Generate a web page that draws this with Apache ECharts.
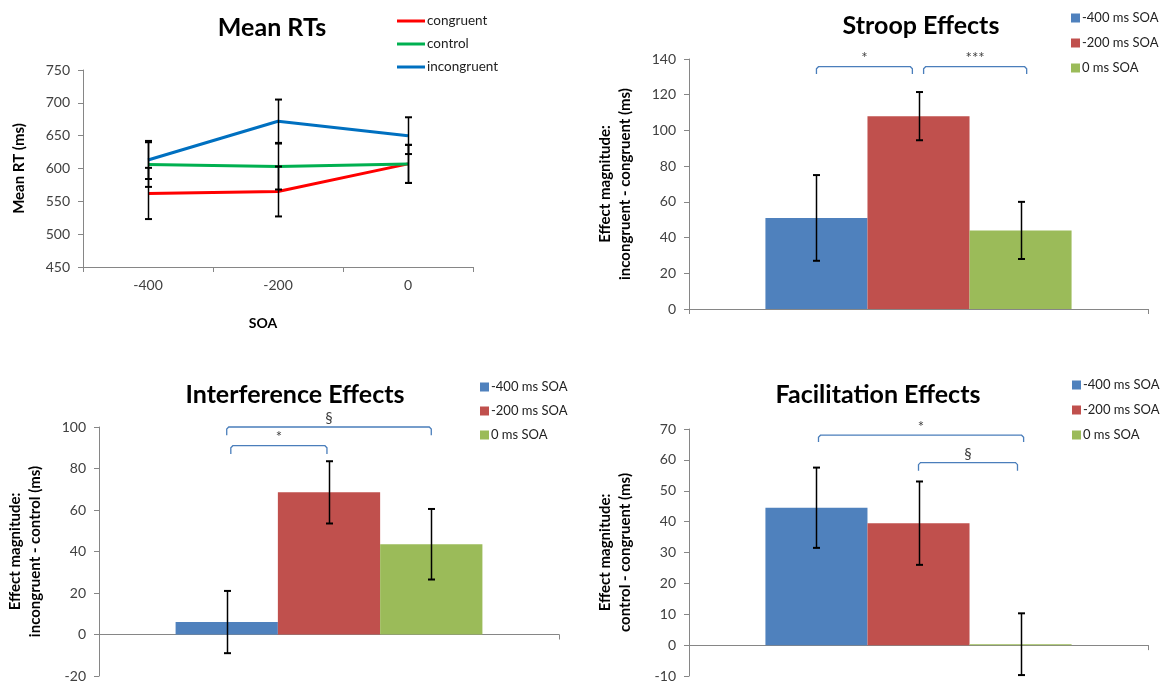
<!DOCTYPE html>
<html><head><meta charset="utf-8">
<script src="https://cdn.jsdelivr.net/npm/echarts@6/dist/echarts.min.js"></script>
<style>html,body{margin:0;padding:0;background:#fff}#c{width:1164px;height:683px}</style>
</head><body><div id="c"></div>
<script>
// ---- Mean RTs (line panel) ----
const soaCategories = ['-400', '-200', '0'];
const congruentRT = [562, 565, 607];
const controlRT = [606, 603, 607];
const incongruentRT = [613, 672, 650];
const congruentErr = [39, 38, 29];
const controlErr = [34, 35, 29];
const incongruentErr = [29, 33, 28];

// ---- Effect panels (bar panels) ----
const soaSeriesNames = ['-400 ms SOA', '-200 ms SOA', '0 ms SOA'];
const stroopValues = [51, 108, 44];
const stroopErr = [24, 13.5, 16];
const interferenceValues = [6, 68.5, 43.5];
const interferenceErr = [15, 15, 17];
const facilitationValues = [44.5, 39.5, 0.3];
const facilitationErr = [13, 13.5, 10];

// significance brackets: [fromBar, toBar, topValue, tickBottomValue, label]
const stroopBrackets = [[0, 0.94, 135.7, 131.6, '*'], [1.05, 2.06, 135.7, 131.6, '***']];
const interferenceBrackets = [[0, 2.0, 100, 96, '§'], [0.04, 0.98, 91, 87, '*']];
const facilitationBrackets = [[0.02, 2.03, 68, 65.8, '*'], [1.0, 1.97, 59.1, 56.5, '§']];

const lineColors = ['#FF0000', '#00B050', '#0070C0'];
const barColors = ['#4F81BD', '#C0504D', '#9BBB59'];
const GAP = 0.333;
const axisGray = '#868686';
const labelColor = '#404040';
const FONT = 'Lato';

const chart = echarts.init(document.getElementById('c'));

function valueAxis(gridIndex, min, max, interval, name) {
  return {
    type: 'value', gridIndex, min, max, interval,
    name, nameLocation: 'middle', nameGap: 54, nameRotate: 90,
    nameTextStyle: { fontWeight: 'bold', fontSize: 15, color: '#000', lineHeight: 20, fontFamily: FONT },
    axisLine: { show: true, lineStyle: { color: axisGray, width: 1 } },
    axisTick: { show: true, length: 5, lineStyle: { color: axisGray } },
    axisLabel: { fontSize: 14, color: labelColor, margin: 13, fontFamily: FONT },
    splitLine: { show: false }
  };
}
function barXAxis(gridIndex) {
  return {
    type: 'category', gridIndex, data: [''], boundaryGap: true,
    axisLine: { show: true, onZero: true, lineStyle: { color: axisGray, width: 1 } },
    axisTick: { show: true, length: 5, lineStyle: { color: axisGray } },
    axisLabel: { show: false }, splitLine: { show: false }
  };
}
function barSeries(gridIndex, values) {
  return values.map((v, i) => ({
    type: 'bar', name: soaSeriesNames[i], xAxisIndex: gridIndex, yAxisIndex: gridIndex,
    data: [v], barGap: 0, barCategoryGap: (GAP * 100) + '%',
    itemStyle: { color: barColors[i] }, z: 2
  }));
}
function barErrorSeries(gridIndex, values, errs) {
  return {
    type: 'custom', xAxisIndex: gridIndex, yAxisIndex: gridIndex, z: 10, silent: true,
    data: values.map((v, i) => [0, v - errs[i], v + errs[i], i]),
    renderItem: (params, api) => {
      const lo = api.coord([0, api.value(1)]);
      const hi = api.coord([0, api.value(2)]);
      const band = api.size([1, 0])[0];
      const bw = band * (1 - GAP) / 3;
      const x = Math.round(lo[0] + (api.value(3) - 1) * bw) + 0.5;
      const st = { stroke: '#000', lineWidth: 1.5 };
      return { type: 'group', children: [
        { type: 'line', shape: { x1: x, y1: lo[1], x2: x, y2: hi[1] }, style: st },
        { type: 'line', shape: { x1: x - 3.5, y1: lo[1], x2: x + 3.5, y2: lo[1] }, style: { stroke: '#000', lineWidth: 2 } },
        { type: 'line', shape: { x1: x - 3.5, y1: hi[1], x2: x + 3.5, y2: hi[1] }, style: { stroke: '#000', lineWidth: 2 } }
      ] };
    }
  };
}
function bracketSeries(gridIndex, brackets) {
  return {
    type: 'custom', xAxisIndex: gridIndex, yAxisIndex: gridIndex, z: 11, silent: true,
    data: brackets.map(b => [0, b[2], b[3], b[0], b[1]]),
    renderItem: (params, api) => {
      const top = api.coord([0, api.value(1)]);
      const bot = api.coord([0, api.value(2)]);
      const band = api.size([1, 0])[0];
      const bw = band * (1 - GAP) / 3;
      const x1 = top[0] + (api.value(3) - 1) * bw;
      const x2 = top[0] + (api.value(4) - 1) * bw;
      const r = 2;
      const label = brackets[params.dataIndex][4];
      return { type: 'group', children: [
        { type: 'polyline', shape: { points: [[x1, bot[1]], [x1, top[1] + r], [x1 + r, top[1]], [x2 - r, top[1]], [x2, top[1] + r], [x2, bot[1]]] },
          style: { stroke: '#4A7EBB', lineWidth: 1.3, fill: null } },
        { type: 'text', x: (x1 + x2) / 2, y: top[1] - 1,
          style: { text: label, fontSize: 15, fontFamily: FONT, fill: '#404040', align: 'center', verticalAlign: 'bottom' } }
      ] };
    }
  };
}
function barLegend(left, top, gap) {
  return {
    data: soaSeriesNames, orient: 'vertical', left, top, icon: 'rect',
    itemWidth: 9, itemHeight: 9, itemGap: gap, selectedMode: false,
    textStyle: { fontSize: 13, color: '#222', fontFamily: FONT, lineHeight: 16, padding: [0, 0, 0, -3] }
  };
}
const titleStyle = { fontSize: 25, fontWeight: 'bold', color: '#000', fontFamily: FONT };

const lineNames = ['congruent', 'control', 'incongruent'];
const lineData = [congruentRT, controlRT, incongruentRT];
const lineErrs = [congruentErr, controlErr, incongruentErr];

const option = {
  animation: false,
  textStyle: { fontFamily: FONT },
  title: [
    { text: 'Mean RTs', left: 267, top: 10, textAlign: 'center', textStyle: titleStyle },
    { text: 'Stroop Effects', left: 916, top: 8, textAlign: 'center', textStyle: titleStyle },
    { text: 'Interference Effects', left: 290, top: 377, textAlign: 'center', textStyle: titleStyle },
    { text: 'Facilitation Effects', left: 873, top: 377, textAlign: 'center', textStyle: titleStyle }
  ],
  legend: [
    { data: lineNames, orient: 'vertical', left: 392, top: 8, icon: 'rect', itemWidth: 28, itemHeight: 3, itemGap: 7,
      selectedMode: false, textStyle: { fontSize: 13.5, color: '#222', fontFamily: FONT, lineHeight: 16, padding: [0, 0, 0, -3] } },
    barLegend(1066, 5, 9),
    barLegend(475, 374, 8),
    barLegend(1067, 372, 9)
  ],
  grid: [
    { left: 83, top: 70, width: 390, height: 197 },
    { left: 689, top: 59, width: 459, height: 250 },
    { left: 99, top: 427, width: 460, height: 250 },
    { left: 689, top: 429, width: 459, height: 248 }
  ],
  xAxis: [
    { type: 'category', gridIndex: 0, data: soaCategories, boundaryGap: true,
      name: 'SOA', nameLocation: 'middle', nameGap: 49,
      nameTextStyle: { fontWeight: 'bold', fontSize: 14, color: '#000', fontFamily: FONT, padding: [0, 30, 0, 0] },
      axisLine: { lineStyle: { color: axisGray, width: 1 } },
      axisTick: { show: true, length: 5, lineStyle: { color: axisGray } },
      axisLabel: { fontSize: 14, color: labelColor, margin: 11, fontFamily: FONT },
      splitLine: { show: false } },
    barXAxis(1), barXAxis(2), barXAxis(3)
  ],
  yAxis: [
    valueAxis(0, 450, 750, 50, 'Mean RT (ms)'),
    valueAxis(1, 0, 140, 20, 'Effect magnitude:\nincongruent - congruent (ms)'),
    valueAxis(2, -20, 100, 20, 'Effect magnitude:\nincongruent - control (ms)'),
    valueAxis(3, -10, 70, 10, 'Effect magnitude:\ncontrol - congruent (ms)')
  ],
  series: [
    ...lineNames.map((n, i) => ({
      type: 'line', name: n, xAxisIndex: 0, yAxisIndex: 0, data: lineData[i],
      symbol: 'none', lineStyle: { color: lineColors[i], width: 3 }, itemStyle: { color: lineColors[i] }, z: 3
    })),
    {
      type: 'custom', xAxisIndex: 0, yAxisIndex: 0, z: 10, silent: true,
      data: lineData.flatMap((arr, s) => arr.map((v, i) => [i, v - lineErrs[s][i], v + lineErrs[s][i]])),
      renderItem: (params, api) => {
        const lo = api.coord([api.value(0), api.value(1)]);
        const hi = api.coord([api.value(0), api.value(2)]);
        const x = Math.round(lo[0]) + 0.5;
        return { type: 'group', children: [
          { type: 'line', shape: { x1: x, y1: lo[1], x2: x, y2: hi[1] }, style: { stroke: '#000', lineWidth: 1.5 } },
          { type: 'line', shape: { x1: x - 3.5, y1: lo[1], x2: x + 3.5, y2: lo[1] }, style: { stroke: '#000', lineWidth: 2 } },
          { type: 'line', shape: { x1: x - 3.5, y1: hi[1], x2: x + 3.5, y2: hi[1] }, style: { stroke: '#000', lineWidth: 2 } }
        ] };
      }
    },
    ...barSeries(1, stroopValues), barErrorSeries(1, stroopValues, stroopErr), bracketSeries(1, stroopBrackets),
    ...barSeries(2, interferenceValues), barErrorSeries(2, interferenceValues, interferenceErr), bracketSeries(2, interferenceBrackets),
    ...barSeries(3, facilitationValues), barErrorSeries(3, facilitationValues, facilitationErr), bracketSeries(3, facilitationBrackets)
  ]
};
chart.setOption(option);
</script>
</body></html>
